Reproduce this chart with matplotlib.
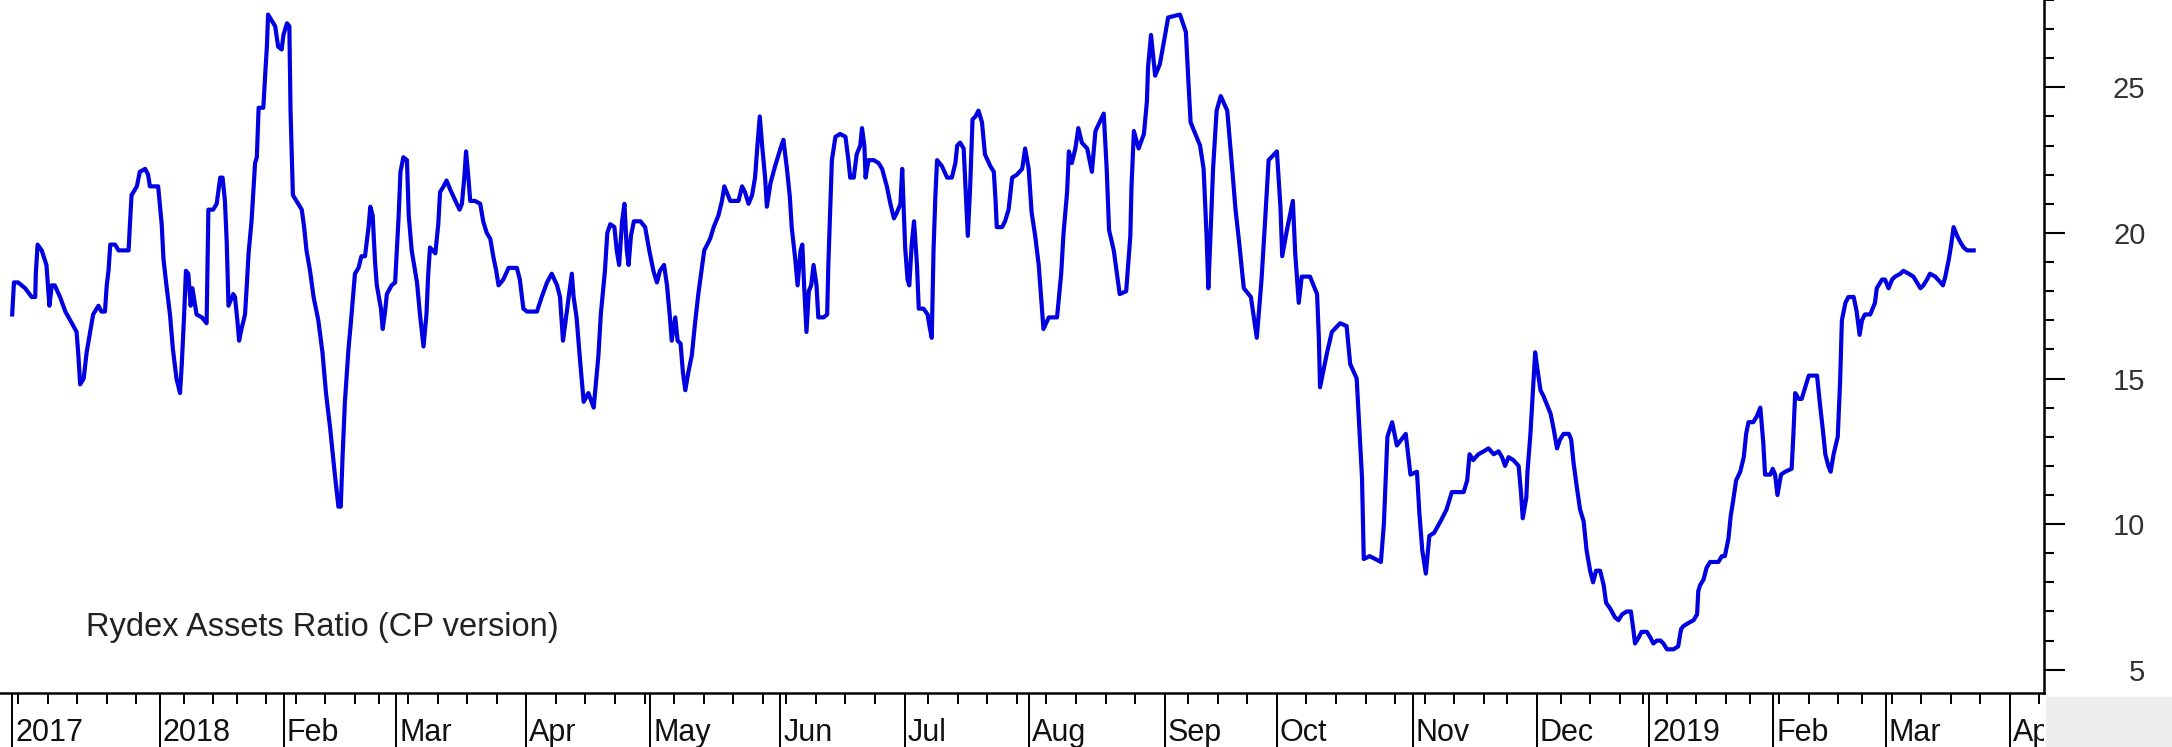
import numpy as np
import pandas as pd
import matplotlib
matplotlib.use("Agg")
from matplotlib import pyplot as plt
from matplotlib.patches import Rectangle
from matplotlib.ticker import MultipleLocator

# Trading calendar of the chart (days the chart skips)
first_day = "2017-11-24"
axis_end = "2019-04-12"
holidays = ["2017-12-25", "2018-01-01", "2018-01-15", "2018-02-19", "2018-05-28",
            "2018-07-04", "2018-09-03", "2018-11-22", "2018-12-05", "2018-12-25",
            "2019-01-01", "2019-01-21", "2019-02-18"]

# Session number (trading days after first_day) and ratio
t = [0.0, 0.3, 1.0, 2.2, 3.3, 3.9, 4.0, 4.3, 5.0, 5.8, 6.3, 6.7, 7.2, 8.1, 9.0, 10.1,
     10.9, 11.2, 11.5, 12.1, 12.6, 13.2, 13.7, 14.6, 15.1, 15.7, 16.0, 16.3, 16.6,
     17.4, 18.0, 19.7, 19.9, 20.2, 21.1, 21.6, 22.5, 23.0, 23.3, 24.7, 25.3, 25.6,
     26.1, 26.7, 27.2, 27.8, 28.4, 28.7, 29.1, 29.4, 29.8, 30.2, 30.5, 31.2, 32.1,
     32.9, 33.2, 34.0, 34.6, 35.2, 35.6, 36.0, 36.3, 36.6, 37.4, 37.7, 38.1, 38.4,
     38.8, 39.4, 39.7, 40.0, 40.5, 41.1, 41.4, 41.7, 42.5, 42.8, 43.1, 43.3, 43.9,
     44.5, 45.0, 45.6, 45.9, 46.5, 46.9, 47.1, 47.5, 48.1, 49.0, 49.4, 49.8, 50.4,
     51.0, 51.8, 52.5, 53.1, 53.8, 54.6, 55.2, 55.6, 55.9, 56.3, 56.9, 57.3, 58.0,
     58.6, 59.1, 59.7, 60.3, 60.6, 61.0, 61.4, 61.7, 62.4, 62.7, 63.1, 63.4, 64.2,
     64.8, 65.4, 65.7, 66.2, 66.8, 67.1, 67.6, 68.5, 69.0, 69.6, 70.1, 70.4, 70.7,
     71.6, 72.1, 72.4, 73.0, 73.5, 74.1, 75.0, 75.7, 76.1, 76.5, 76.8, 77.2, 77.5,
     78.3, 79.2, 79.7, 80.3, 80.9, 81.4, 81.9, 82.3, 83.1, 84.0, 85.4, 85.9, 86.5,
     87.1, 88.8, 89.6, 90.5, 91.3, 92.2, 92.7, 93.2, 93.6, 94.1, 94.7, 95.0, 95.5,
     96.1, 96.7, 97.5, 98.4, 98.8, 99.2, 99.6, 100.3, 100.7, 101.2, 101.9, 102.3,
     102.7, 103.2, 103.6, 104.0, 104.3, 104.7, 105.2, 106.3, 107.1, 107.8, 108.5,
     109.1, 109.6, 110.3, 110.8, 111.3, 111.6, 112.2, 112.6, 113.1, 113.5, 113.9,
     114.4, 115.0, 115.6, 116.1, 116.7, 117.1, 118.1, 118.7, 119.5, 120.1, 120.5,
     120.9, 121.5, 122.9, 123.5, 124.0, 124.6, 125.2, 125.7, 126.1, 126.5, 126.9,
     127.4, 127.7, 128.3, 129.1, 130.0, 130.5, 131.1, 131.6, 131.9, 132.5, 132.9,
     133.4, 133.7, 134.0, 134.4, 134.8, 135.2, 135.6, 136.1, 136.4, 137.3, 137.9,
     138.1, 138.4, 138.7, 139.3, 140.1, 141.0, 141.5, 141.8, 142.4, 142.9, 143.5,
     143.8, 144.2, 144.4, 144.9, 145.8, 146.6, 147.2, 148.0, 148.6, 149.2, 149.7,
     150.3, 150.6, 150.8, 151.1, 151.5, 151.8, 152.2, 152.6, 153.1, 153.4, 154.2,
     154.9, 155.3, 155.6, 155.9, 156.2, 156.5, 157.3, 158.2, 159.0, 159.6, 159.9,
     160.4, 161.0, 161.4, 161.7, 162.1, 162.5, 163.0, 163.5, 164.1, 164.6, 165.5,
     166.1, 166.4, 166.6, 167.5, 168.0, 168.6, 169.2, 170.0, 170.9, 171.4, 172.0,
     172.5, 173.1, 173.7, 174.1, 174.5, 175.4, 176.8, 177.5, 177.9, 178.5, 178.8,
     179.3, 179.9, 180.4, 181.0, 181.9, 182.7, 183.3, 184.7, 185.2, 185.6, 186.4,
     187.4, 188.5, 189.2, 189.4, 189.8, 190.6, 191.5, 192.0, 192.2, 192.7, 193.4,
     194.2, 195.0, 195.6, 197.6, 198.6, 199.0, 199.4, 200.2, 201.0, 201.6, 202.1,
     202.4, 202.8, 203.2, 203.8, 204.5, 205.6, 206.4, 207.0, 207.6, 208.4, 209.6,
     210.6, 211.4, 212.0, 212.6, 214.0, 214.6, 214.9, 215.7, 216.7, 217.1, 217.7,
     218.2, 219.6, 220.8, 221.1, 221.3, 222.5, 223.3, 224.7, 225.8, 226.4, 227.5,
     228.4, 228.7, 229.7, 231.6, 232.1, 232.7, 233.5, 234.3, 235.8, 236.6, 237.7,
     238.1, 238.6, 239.2, 239.8, 240.6, 241.7, 242.7, 243.6, 245.6, 246.2, 246.6,
     247.2, 248.1, 249.0, 249.8, 250.7, 251.5, 252.1, 252.6, 253.2, 254.0, 254.9,
     255.3, 255.6, 256.2, 256.4, 256.9, 257.3, 257.7, 258.1, 258.6, 259.1, 259.7,
     260.3, 260.8, 261.4, 261.9, 262.5, 263.4, 263.8, 264.2, 264.8, 265.3, 265.9,
     266.4, 267.0, 267.5, 268.0, 268.7, 269.3, 269.7, 270.4, 271.2, 271.8, 272.4,
     273.2, 273.9, 274.3, 274.6, 275.2, 275.7, 276.6, 277.2, 277.7, 278.3, 278.9,
     279.4, 280.0, 281.1, 281.9, 282.4, 282.8, 283.6, 284.5, 285.1, 285.3, 285.6,
     286.2, 286.7, 287.3, 288.7, 289.3, 289.8, 290.4, 290.8, 291.2, 291.7, 292.4,
     293.0, 293.4, 293.8, 294.6, 295.2, 295.8, 296.3, 296.6, 297.5, 297.9, 298.3,
     298.7, 299.3, 300.0, 301.1, 301.4, 301.7, 302.3, 302.8, 303.4, 304.0, 305.4,
     305.9, 306.4, 306.8, 307.3, 307.7, 308.2, 308.9, 309.3, 309.6, 310.2, 310.7,
     311.6, 312.1, 312.6, 313.0, 313.5, 314.4, 315.2, 315.5, 316.4, 316.9, 317.5,
     318.1, 318.6, 319.5, 320.0, 320.9, 321.7, 322.3, 322.9, 323.4, 324.0, 324.5,
     325.4, 326.3, 326.7, 327.1, 327.7, 328.1, 328.5, 329.1, 329.6, 330.2, 330.8,
     331.9]
ratio = [17.2, 18.3, 18.3, 18.1, 17.8, 17.8, 18.6, 19.6, 19.4, 18.9, 17.5, 18.2, 18.2,
         17.8, 17.3, 16.9, 16.6, 15.8, 14.8, 15.0, 15.9, 16.6, 17.2, 17.5, 17.3, 17.3,
         18.2, 18.7, 19.6, 19.6, 19.4, 19.4, 20.2, 21.3, 21.6, 22.1, 22.2, 22.0, 21.6,
         21.6, 20.3, 19.1, 18.2, 17.2, 16.0, 15.0, 14.5, 15.5, 17.2, 18.7, 18.6, 17.5,
         18.1, 17.2, 17.1, 16.9, 20.8, 20.8, 21.0, 21.9, 21.9, 21.1, 19.7, 17.5, 17.9,
         17.8, 17.0, 16.3, 16.7, 17.2, 18.2, 19.3, 20.4, 22.4, 22.6, 24.3, 24.3, 25.4,
         26.4, 27.5, 27.3, 27.1, 26.4, 26.3, 26.8, 27.2, 27.1, 24.2, 21.3, 21.1, 20.8,
         20.2, 19.4, 18.7, 17.8, 17.0, 15.9, 14.5, 13.3, 11.7, 10.6, 10.6, 12.3, 14.2,
         16.0, 16.9, 18.6, 18.8, 19.2, 19.2, 20.2, 20.9, 20.6, 19.0, 18.2, 17.4, 16.7,
         17.3, 17.9, 18.2, 18.3, 20.6, 22.1, 22.6, 22.5, 20.6, 19.4, 18.3, 17.2, 16.1,
         17.2, 18.6, 19.5, 19.3, 20.3, 21.4, 21.6, 21.8, 21.5, 21.1, 20.8, 21.0, 21.9,
         22.8, 21.9, 21.1, 21.1, 21.0, 20.4, 20.0, 19.8, 19.2, 18.7, 18.2, 18.4, 18.8,
         18.8, 18.4, 17.4, 17.3, 17.3, 17.8, 18.3, 18.6, 18.2, 17.8, 16.3, 16.9, 17.7,
         18.6, 17.8, 17.1, 15.6, 14.2, 14.5, 14.0, 14.9, 15.8, 17.2, 18.7, 20.0, 20.3,
         20.2, 19.4, 18.9, 20.4, 21.0, 19.4, 18.9, 19.9, 20.4, 20.4, 20.2, 19.4, 18.7,
         18.3, 18.7, 18.9, 18.2, 17.1, 16.3, 17.1, 16.3, 16.2, 15.2, 14.6, 15.2, 15.8,
         17.0, 17.9, 18.8, 19.4, 19.8, 20.2, 20.6, 21.1, 21.6, 21.4, 21.1, 21.1, 21.6,
         21.4, 21.0, 21.3, 21.9, 23.0, 24.0, 23.0, 21.9, 20.9, 21.7, 22.3, 22.9, 23.2,
         22.2, 21.2, 20.2, 19.1, 18.2, 19.4, 19.6, 18.2, 16.6, 18.0, 18.2, 18.9, 18.2,
         17.1, 17.1, 17.2, 18.9, 20.7, 22.5, 23.3, 23.4, 23.3, 22.5, 21.9, 21.9, 22.7,
         23.0, 23.6, 23.0, 21.9, 22.5, 22.5, 22.4, 22.2, 21.6, 21.0, 20.5, 20.7, 21.0,
         22.2, 21.1, 19.5, 18.4, 18.2, 19.6, 20.4, 18.9, 17.4, 17.4, 17.2, 16.7, 16.4,
         19.4, 21.2, 22.5, 22.3, 21.9, 21.9, 22.4, 23.0, 23.1, 22.9, 21.2, 19.9, 21.6,
         23.9, 24.0, 24.2, 23.8, 22.7, 22.3, 22.1, 21.1, 20.2, 20.2, 20.4, 20.8, 21.9,
         22.0, 22.2, 22.9, 22.2, 20.7, 19.9, 18.9, 17.8, 16.7, 17.1, 17.1, 18.6, 20.0,
         21.4, 22.8, 22.4, 22.9, 23.6, 23.1, 22.9, 22.1, 23.5, 24.1, 22.2, 20.1, 19.4,
         17.9, 18.0, 19.9, 21.6, 23.5, 22.9, 23.4, 24.5, 25.7, 26.8, 25.4, 25.8, 26.7,
         27.4, 27.5, 26.9, 25.3, 23.8, 23.4, 23.0, 22.2, 19.9, 18.1, 20.1, 22.2, 24.2,
         24.7, 24.2, 22.3, 20.8, 19.7, 18.1, 17.8, 16.4, 18.4, 20.4, 22.5, 22.8, 20.9,
         19.2, 20.1, 21.1, 19.3, 17.6, 18.5, 18.5, 17.9, 16.4, 14.7, 15.9, 16.6, 16.9,
         16.8, 15.5, 15.0, 11.6, 8.8, 8.9, 8.7, 10.0, 13.0, 13.5, 12.7, 13.1, 11.7, 11.8,
         10.4, 9.1, 8.3, 9.6, 9.7, 10.1, 10.5, 11.1, 11.1, 11.5, 12.4, 12.2, 12.4, 12.5,
         12.6, 12.4, 12.5, 12.3, 12.0, 12.3, 12.2, 12.0, 11.1, 10.2, 10.9, 11.8, 13.1,
         14.5, 15.9, 15.3, 14.6, 14.4, 14.1, 13.8, 13.3, 12.6, 12.9, 13.1, 13.1, 12.9,
         12.1, 11.2, 10.5, 10.1, 9.1, 8.4, 8.0, 8.4, 8.4, 7.9, 7.3, 7.1, 6.8, 6.7, 6.9,
         7.0, 7.0, 6.4, 5.9, 6.1, 6.3, 6.3, 6.1, 5.9, 6.0, 6.0, 5.9, 5.7, 5.7, 5.8, 6.4,
         6.5, 6.6, 6.7, 6.9, 7.7, 7.9, 8.1, 8.5, 8.7, 8.7, 8.9, 8.9, 9.5, 10.3, 10.8,
         11.5, 11.8, 12.3, 13.1, 13.5, 13.5, 13.7, 14.0, 12.8, 11.7, 11.7, 11.9, 11.7,
         11.0, 11.7, 11.8, 11.9, 13.1, 14.5, 14.3, 14.3, 14.7, 15.1, 15.1, 14.1, 13.2,
         12.4, 12.0, 11.8, 12.4, 13.0, 14.9, 17.0, 17.6, 17.8, 17.8, 17.3, 16.5, 17.0,
         17.2, 17.2, 17.6, 18.1, 18.4, 18.4, 18.1, 18.4, 18.5, 18.6, 18.7, 18.6, 18.5,
         18.3, 18.1, 18.2, 18.4, 18.6, 18.5, 18.3, 18.2, 18.5, 19.1, 19.6, 20.2, 19.9,
         19.7, 19.5, 19.4, 19.4]

chart_title = "Rydex Assets Ratio (CP version)"
y_major = [5, 10, 15, 20, 25]

# sessions on the x axis
days = pd.bdate_range(first_day, axis_end, freq="C", holidays=holidays)
month_pos = [0]
month_lab = [str(days[0].year)]
for i in range(1, len(days)):
    if days[i].month != days[i - 1].month and days[i] >= pd.Timestamp("2018-01-01"):
        month_pos.append(i)
        month_lab.append(str(days[i].year) if days[i].month == 1 else days[i].strftime("%b"))
week_pos = [i for i in range(1, len(days)) if days[i].weekday() < days[i - 1].weekday()]

W, H = 2172, 747
fig = plt.figure(figsize=(W / 100, H / 100), dpi=100)
fig.patches.append(Rectangle((2046 / W, 0), (W - 2046) / W, 50 / H,
                             transform=fig.transFigure, color="#eeeeee", zorder=0))

ax = fig.add_axes([0, 54 / H, 2044 / W, 693 / H])
ax.plot(t, ratio, color="#0000e0", lw=3.0)
ax.set_xlim(-2.06, 343.8)
ax.set_ylim(4.2, 28.0)

for s in ["left", "top"]:
    ax.spines[s].set_visible(False)
ax.spines["right"].set_linewidth(1.8)
ax.spines["bottom"].set_linewidth(1.8)
ax.set_xticks([])
ax.yaxis.tick_right()
ax.set_yticks(y_major)
ax.yaxis.set_minor_locator(MultipleLocator(1))
ax.tick_params(axis="y", which="major", length=15, width=1.5, pad=58,
               labelsize=21, labelcolor="#333333")
ax.tick_params(axis="y", which="minor", length=7, width=1.5)
for lab in ax.get_yticklabels():
    lab.set_horizontalalignment("right")
    lab.set_family("Liberation Sans")

ax.text(86 / 2044, 0.094, chart_title, transform=ax.transAxes, fontsize=23.5,
        family="Liberation Sans", color="#222222", va="center", ha="left")

# date band under the chart
bx = fig.add_axes([0, 0, 2044 / W, 54 / H])
bx.set_xlim(ax.get_xlim())
bx.set_ylim(0, 1)
bx.axis("off")
bx.vlines(month_pos, 0, 1, color="black", lw=1.4)
bx.vlines(week_pos, 0.8, 1, color="black", lw=1.4)
for p, lab in zip(month_pos, month_lab):
    bx.text(p + 0.5, 0.12, lab, fontsize=22, va="baseline", ha="left",
            family=["Liberation Sans Narrow", "Liberation Sans"], color="#111111",
            clip_on=True)

fig.savefig("out.png", dpi=100)
